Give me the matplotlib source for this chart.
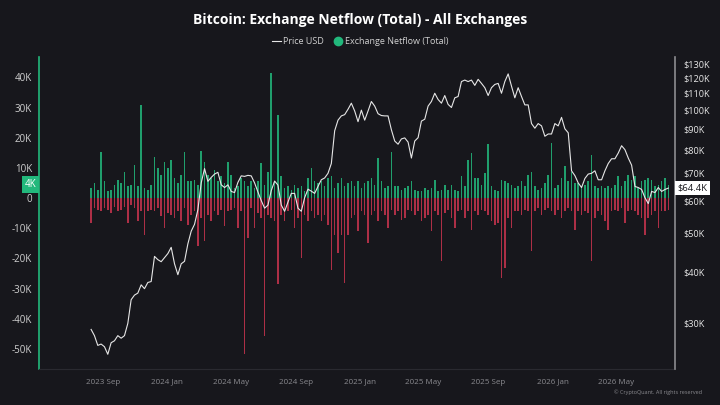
import matplotlib.pyplot as plt
import matplotlib.dates as mdates
import matplotlib.transforms as mtrans
from matplotlib.lines import Line2D
import pandas as pd

plt.rcParams['font.family'] = ['Open Sans', 'DejaVu Sans']

# -------- data (one sample every ~6 days) --------
first_day = '2023-08-10'
last_day = '2026-08-08'

price_k = [
    29.0, 28.0, 26.5, 26.7, 26.3, 25.2, 26.9, 27.2, 28.0, 27.6,
    28.0, 30.0, 34.3, 35.2, 35.6, 37.3, 36.5, 37.8, 38.0, 43.8,
    43.0, 42.5, 43.5, 44.5, 46.1, 42.0, 39.5, 42.0, 42.6, 47.0,
    50.5, 52.5, 57.0, 66.3, 71.9, 66.9, 68.4, 69.7, 70.4, 65.6,
    64.6, 65.6, 63.2,
    62.8, 66.5, 69.0, 68.8, 69.2, 69.0, 66.3, 63.0, 60.0, 57.5,
    58.5, 63.5, 67.0, 65.5, 58.5, 56.5, 59.5, 62.5, 62.5, 57.5,
    56.5, 61.0, 64.0, 63.3, 62.5, 65.0, 67.5, 68.2, 70.0, 74.0,
    89.0, 94.5, 96.8, 97.5, 100.5, 104.0, 99.5, 93.7, 100.0, 94.5,
    99.5, 105.0, 102.3, 98.0, 97.0,
    96.8, 96.8, 89.5, 84.0, 82.5, 85.0, 85.5, 83.5, 76.3, 84.0,
    85.6, 94.0, 95.0, 102.3, 105.0, 110.0, 106.2, 104.0, 108.6, 103.3,
    101.5, 107.2, 108.0, 117.5, 118.5, 117.5, 118.5, 115.0, 119.0, 116.3,
    113.5, 108.6, 113.5, 115.6, 116.3, 110.0, 117.5, 122.7, 114.5, 107.2,
    113.5, 108.0, 103.0, 103.0, 92.7,
    90.3, 92.7, 91.5, 86.3, 87.4, 87.4, 92.7, 91.5, 96.0, 90.0,
    88.0, 71.0, 69.1, 66.3, 64.6, 68.0, 69.7, 70.0, 71.0, 67.5,
    67.5, 71.0, 74.0, 76.0, 76.0, 78.5, 81.8, 80.0, 76.3, 73.3,
    65.0, 64.6, 63.9, 61.0, 59.0, 63.2, 62.8, 64.6, 63.2, 63.9,
    64.4,
]

inflow_k = [
    3.3, 5.0, 2.8, 15.4, 5.5, 2.2, 2.8, 4.4, 6.0, 5.0,
    8.8, 3.9, 4.4, 11.0, 4.0, 31.0, 3.3, 2.8, 4.4, 13.7,
    9.9, 7.7, 12.1, 9.9, 12.6, 6.6, 5.0, 7.7, 15.2, 5.5,
    5.5, 6.0, 4.4, 15.6, 12.1, 7.7, 6.6, 9.4, 5.5, 7.2,
    5.0, 12.1, 7.7,
    3.3, 3.9, 6.6, 5.5, 3.9, 5.5, 3.3, 5.5, 11.6, 4.4,
    8.8, 41.6, 5.5, 27.5, 7.2, 3.3, 3.9, 2.8, 4.4, 3.3,
    3.9, 2.2, 6.6, 9.9, 5.5, 5.0, 5.5, 3.9, 6.6, 7.2,
    3.3, 5.0, 6.6, 3.9, 5.0, 5.5, 3.9, 5.5, 3.3, 5.0,
    5.5, 6.6, 4.4, 13.2, 5.5,
    3.3, 3.9, 15.4, 3.9, 3.9, 2.8, 3.3, 3.9, 5.5, 2.8,
    2.2, 2.2, 3.3, 2.8, 3.3, 6.0, 2.2, 2.8, 4.4, 2.8,
    4.4, 2.8, 2.2, 7.2, 3.9, 12.6, 14.9, 6.6, 6.6, 4.4,
    8.3, 17.8, 3.9, 2.8, 2.2, 6.0, 5.5, 5.0, 4.4, 3.3,
    3.9, 5.5, 3.9, 7.7, 8.8,
    3.9, 2.8, 3.3, 5.0, 7.7, 18.2, 3.3, 4.4, 6.6, 10.5,
    5.5, 8.8, 5.0, 5.0, 3.9, 4.4, 5.5, 14.3, 3.9, 3.3,
    3.9, 3.3, 3.9, 3.3, 4.4, 7.2, 3.9, 5.5, 7.7, 6.0,
    7.2, 3.3, 5.5, 6.0, 6.6, 6.0, 3.9, 4.4, 5.5, 6.6,
    4.4,
]

outflow_k = [
    -8.3, -3.3, -3.9, -4.4, -3.3, -3.9, -5.0, -2.8, -4.4, -3.9,
    -2.8, -8.3, -2.2, -3.3, -7.7, -4.4, -12.1, -4.4, -3.9, -4.4,
    -3.3, -6.0, -9.9, -5.0, -5.5, -6.6, -4.4, -7.7, -3.3, -8.8,
    -5.5, -4.4, -16.0, -6.6, -14.3, -5.5, -7.7, -4.4, -5.5, -3.9,
    -9.4, -4.4, -3.9,
    -3.3, -9.9, -4.4, -51.7, -13.2, -3.3, -9.9, -5.0, -6.6, -45.6,
    -5.5, -6.6, -7.7, -28.6, -5.5, -7.7, -4.4, -3.9, -9.9, -6.6,
    -19.8, -5.5, -7.7, -4.4, -6.6, -5.5, -7.7, -5.5, -8.8, -23.7,
    -12.1, -18.2, -12.1, -28.1, -12.1, -6.6, -5.5, -11.0, -4.4, -5.5,
    -14.9, -5.5, -4.4, -7.7, -4.4,
    -5.5, -9.9, -3.9, -5.5, -4.4, -7.2, -6.6, -3.9, -4.4, -5.5,
    -4.4, -7.7, -6.6, -5.5, -11.0, -4.4, -5.5, -20.9, -5.0, -3.9,
    -6.6, -9.9, -4.4, -3.9, -6.6, -4.4, -10.5, -4.4, -5.5, -3.9,
    -4.4, -5.5, -7.7, -8.8, -8.3, -26.4, -23.1, -6.6, -9.9, -4.4,
    -4.4, -5.5, -3.9, -4.4, -17.6,
    -4.4, -3.3, -5.5, -3.9, -3.3, -4.4, -5.5, -3.9, -6.6, -4.4,
    -3.3, -4.4, -10.5, -4.4, -5.5, -4.4, -5.0, -20.9, -6.6, -4.4,
    -5.5, -7.7, -10.5, -4.4, -3.9, -4.4, -3.3, -8.3, -4.4, -3.9,
    -4.4, -5.5, -6.6, -12.1, -6.6, -5.5, -4.4, -9.9, -4.4, -4.4,
    -3.9,
]

netflow_now_k = 4.4
price_now_k = 64.4

tick_months = ['2023-09-01', '2024-01-01', '2024-05-01', '2024-09-01', '2025-01-01',
               '2025-05-01', '2025-09-01', '2026-01-01', '2026-05-01']
left_ticks = [40, 30, 20, 10, 0, -10, -20, -30, -40, -50]
right_ticks = [30, 40, 50, 60, 70, 80, 90, 100, 110, 120, 130]

dates = pd.date_range(first_day, last_day, periods=len(price_k))

# -------- colours --------
BG = '#17171c'
GREEN = '#22b87c'
RED = '#c8344e'

# -------- plot --------
fig = plt.figure(figsize=(7.2, 4.05), dpi=100, facecolor=BG)
ax = fig.add_axes([0.054, 0.089, 0.883, 0.77], facecolor=BG)
ax2 = ax.twinx()

ax.bar(dates, inflow_k, width=3, color=GREEN, linewidth=0, alpha=0.85)
ax.bar(dates, outflow_k, width=3, color=RED, linewidth=0, alpha=0.85)
ax.set_ylim(-56.6, 46.7)
ax.set_yticks(left_ticks)
ax.set_yticklabels(['0' if v == 0 else f'{v}K' for v in left_ticks])

ax2.plot(dates, price_k, color='#e6e6e6', linewidth=0.8)
ax2.set_yscale('log')
ax2.set_ylim(23.2, 134.9)
ax2.set_yticks(right_ticks)
ax2.set_yticklabels([f'${v}K' for v in right_ticks])
ax2.yaxis.set_minor_locator(plt.NullLocator())

ax.set_xlim(pd.Timestamp('2023-05-03'), pd.Timestamp('2026-08-20'))
ax.set_xticks(pd.to_datetime(tick_months))
ax.xaxis.set_major_formatter(mdates.DateFormatter('%Y %b'))

for a in (ax, ax2):
    for s in a.spines.values():
        s.set_visible(False)
    a.tick_params(length=0)
ax.spines['left'].set_visible(True)
ax.spines['left'].set_color(GREEN)
ax.spines['left'].set_linewidth(1.2)
ax2.spines['right'].set_visible(True)
ax2.spines['right'].set_color('#8c8c90')
ax2.spines['right'].set_linewidth(1.2)
ax.spines['bottom'].set_visible(True)
ax.spines['bottom'].set_color('#2a2a30')

ax.tick_params(axis='y', colors='#d0d0d0', labelsize=7, pad=5)
ax.tick_params(axis='x', colors='#8a8a8f', labelsize=5.8, pad=7)
ax2.tick_params(axis='y', colors='#e6e6e6', labelsize=6.6, pad=6)

# current value badges
tl = mtrans.blended_transform_factory(ax.transAxes, ax.transData)
ax.text(-0.004, netflow_now_k, '4K', transform=tl, ha='right', va='center',
        fontsize=7, color='white',
        bbox=dict(boxstyle='square,pad=0.3', facecolor=GREEN, edgecolor='none'))
tr = mtrans.blended_transform_factory(ax2.transAxes, ax2.transData)
ax2.text(1.004, price_now_k, f'${price_now_k}K', transform=tr, ha='left', va='center',
         fontsize=6.8, color='#17171c',
         bbox=dict(boxstyle='square,pad=0.25', facecolor='white', edgecolor='none'))

fig.text(0.5, 0.95, 'Bitcoin: Exchange Netflow (Total) - All Exchanges',
         ha='center', va='center', fontsize=10, fontweight='bold', color='white')

handles = [
    Line2D([], [], color='#e6e6e6', linewidth=0.8),
    Line2D([], [], color=GREEN, marker='o', linestyle='none', markersize=6),
]
fig.legend(handles, ['Price USD', 'Exchange Netflow (Total)'], loc='center',
           bbox_to_anchor=(0.5, 0.898), ncol=2, frameon=False, fontsize=6.5,
           labelcolor='#d0d0d0', handlelength=1.0, handletextpad=0.3, columnspacing=1.0)

fig.text(0.975, 0.031, '© CryptoQuant. All rights reserved', ha='right', va='center',
         fontsize=4, color='#8a8a8f')

fig.savefig('out.png', dpi=100, facecolor=BG)
